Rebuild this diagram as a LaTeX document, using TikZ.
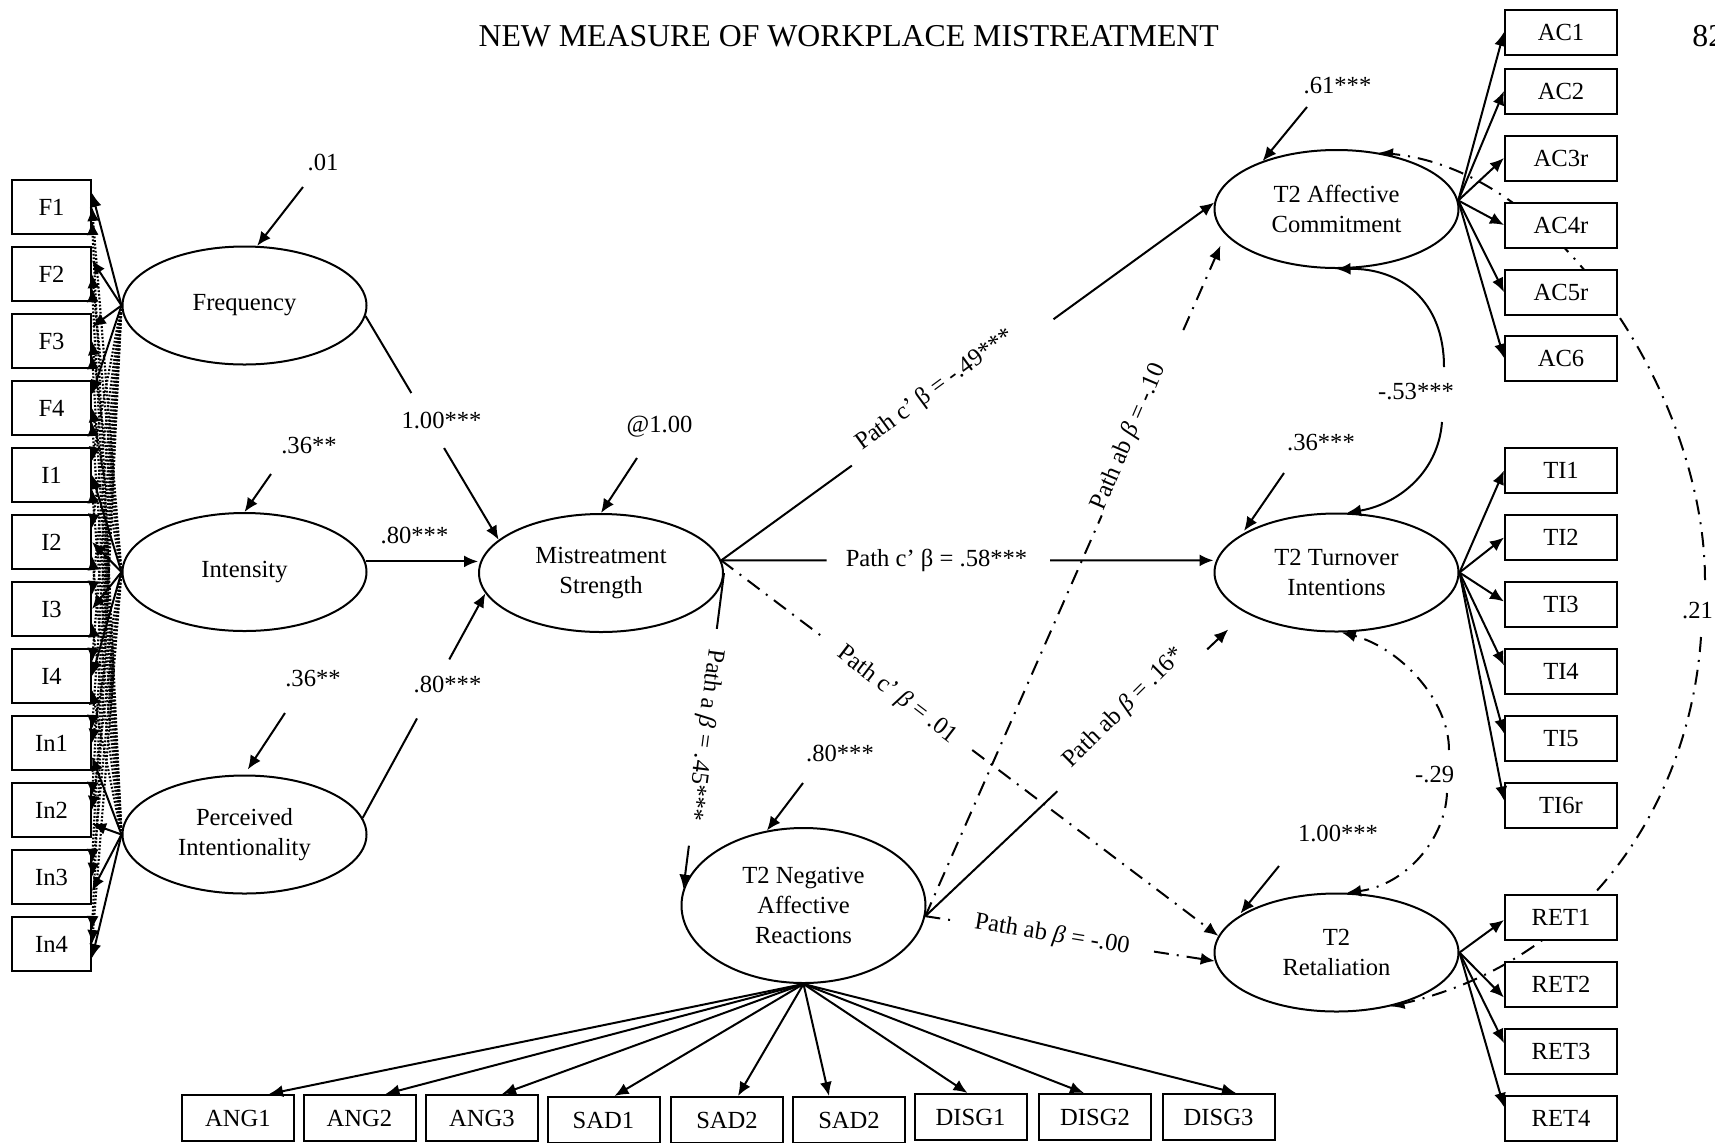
\documentclass[tikz,border=0pt]{standalone}
\usepackage{fontspec}
\setmainfont{Liberation Serif}
\usetikzlibrary{arrows.meta,shapes.geometric,calc}
\pgfdeclarelayer{bg}
\pgfsetlayers{bg,main}
\begin{document}
\begin{tikzpicture}[x=0.5pt,y=-0.5pt,
  every node/.style={font=\fontsize{12.3}{15}\selectfont},
  lat/.style={draw,ellipse,line width=1pt,minimum width=122pt,minimum height=59pt,inner sep=0pt,align=center,fill=white},
  obsL/.style={draw,rectangle,line width=1pt,minimum width=39.5pt,minimum height=27pt,inner sep=0pt,fill=white},
  obsR/.style={draw,rectangle,line width=1pt,minimum width=56pt,minimum height=22.5pt,inner sep=0pt,fill=white},
  obsB/.style={draw,rectangle,line width=1pt,minimum width=56pt,minimum height=23pt,inner sep=0pt,fill=white},
  arr/.style={line width=1pt,-{Latex[length=7pt,width=6pt]}},
  plain/.style={line width=1pt},
  dd/.style={line width=1pt,dash pattern=on 7.5pt off 4pt on 1pt off 4pt},
  cl/.style={line width=1.1pt,dash pattern=on 0.9pt off 0.9pt,-{Latex[length=7pt,width=6pt]}},
  ttl/.style={font=\fontsize{15.9}{18}\selectfont}
]
\useasboundingbox (0,0) rectangle (1715,1142);
\begin{pgfonlayer}{bg}
\fill[white] (0,0) rectangle (1715,1142);
\end{pgfonlayer}

% title
\node[ttl] (title) at (848.7,36) {NEW MEASURE OF WORKPLACE MISTREATMENT};
\node[ttl,anchor=west,inner sep=0pt] (pagenum) at (1692,36) {82};

% latent variables
\node[lat] (freq) at (244.5,305.5) {Frequency};
\node[lat] (inten) at (244.5,572) {Intensity};
\node[lat] (perc) at (244.5,834.5) {Perceived\\Intentionality};
\node[lat] (ms) at (601,573) {Mistreatment\\Strength};
\node[lat] (ac) at (1336.5,209) {T2 Affective\\Commitment};
\node[lat] (ti) at (1336.5,572.5) {T2 Turnover\\Intentions};
\node[lat] (ret) at (1336.5,952.5) {T2\\Retaliation};
\node[lat,minimum height=77.5pt] (nar) at (803.5,905.5) {T2 Negative\\Affective\\Reactions};

% left indicators
\foreach \n/\t [count=\k from 0] in {f1/F1,f2/F2,f3/F3,f4/F4,i1/I1,i2/I2,i3/I3,i4/I4,in1/In1,in2/In2,in3/In3,in4/In4}
  \node[obsL] (\n) at (51.5,{207+67*\k}) {\t};

% right indicators
\foreach \n/\t/\y in {ac1/AC1/32,ac2/AC2/91,ac3/AC3r/158,ac4/AC4r/225,ac5/AC5r/292,ac6/AC6/358}
  \node[obsR] (\n) at (1561,\y) {\t};
\foreach \n/\t/\y in {ti1/TI1/470.5,ti2/TI2/537.5,ti3/TI3/604.5,ti4/TI4/671.5,ti5/TI5/738.5,ti6/TI6r/805.5}
  \node[obsR] (\n) at (1561,\y) {\t};
\foreach \n/\t/\y in {ret1/RET1/917,ret2/RET2/984.5,ret3/RET3/1051,ret4/RET4/1118}
  \node[obsR] (\n) at (1561,\y) {\t};

% bottom indicators
\foreach \n/\t/\x/\y in {ang1/ANG1/238/1118,ang2/ANG2/359.5/1118,ang3/ANG3/482/1118,sad1/SAD1/603.5/1120,sad2/SAD2/727/1120,sad3/SAD2/849/1120,disg1/DISG1/970.5/1117,disg2/DISG2/1095/1117,disg3/DISG3/1218.5/1117}
  \node[obsB] (\n) at (\x,\y) {\t};

% left loadings (cross-loadings dotted)
\foreach \b in {i1,i2,i3,i4,in1,in2,in3,in4} \draw[cl] (freq.west) -- ($(\b.east)+(0,-14)$);
\foreach \b in {f1,f2,f3,f4,in1,in2,in3,in4} \draw[cl] (inten.west) -- (\b.east);
\foreach \b in {f1,f2,f3,f4,i1,i2,i3,i4} \draw[cl] (perc.west) -- ($(\b.east)+(0,14)$);
\foreach \b in {f1,f2,f3,f4} \draw[arr] (freq.west) -- ($(\b.east)+(0,-14)$);
\foreach \b in {i1,i2,i3,i4} \draw[arr] (inten.west) -- (\b.east);
\foreach \b in {in1,in2,in3,in4} \draw[arr] (perc.west) -- ($(\b.east)+(0,14)$);

% residuals
\coordinate (e1) at (303,187);
\coordinate (e2) at (271,474);
\coordinate (e3) at (285,713);
\coordinate (e4) at (637,458);
\coordinate (e5) at (803,783);
\coordinate (e6) at (1307,107);
\coordinate (e7) at (1284,473);
\coordinate (e8) at (1279,866);
\draw[arr] (e1) -- (freq.78);
\draw[arr] (e2) -- (inten.north);
\draw[arr,shorten >=3pt] (e3) -- (perc.north);
\draw[arr] (e4) -- (ms.north);
\draw[arr] (e5) -- (nar.116);
\draw[arr] (e6) -- (ac.147);
\draw[arr,shorten >=2pt] (e7) -- (ti.158);
\draw[arr,shorten >=2pt] (e8) -- (ret.160);
\node (l01) at (323,162) {.01};
\node (l36a) at (309,446) {.36**};
\node (l36b) at (313,679) {.36**};
\node (l100a) at (659.5,427) {@1.00};
\node (l80n) at (840,753.5) {.80***};
\node (l61) at (1337.5,85.5) {.61***};
\node (l36c) at (1321,442.5) {.36***};
\node (l100b) at (1338,833.5) {1.00***};

% dimensions -> mistreatment strength
\draw[plain] (freq.-5) -- ($(freq.-5)!0.344!(ms.162)$);
\draw[arr] ($(freq.-5)!0.59!(ms.162)$) -- (ms.162);
\node (lf) at (441.5,420) {1.00***};
\draw[arr] (inten.5) -- (inten.5 -| ms.west);
\node (li) at (414.5,535.5) {.80***};
\draw[plain] (perc.8) -- ($(perc.8)!0.443!(ms.190)$);
\draw[arr] ($(perc.8)!0.706!(ms.190)$) -- (ms.190);
\node (lp) at (447.5,684.5) {.80***};

% mistreatment strength -> outcomes
\coordinate (mst) at (ms.6);
\draw[plain] (mst) -- ($(mst)!0.265!(ac.177)$);
\draw[arr] ($(mst)!0.674!(ac.177)$) -- (ac.177);
\node[rotate=36.2] (lc1) at (935,390) {Path c’ β = -.49***};

\coordinate (tiw) at (mst -| ti.west);
\draw[plain] (mst) -- ($(mst)!0.214!(tiw)$);
\draw[arr] ($(mst)!0.668!(tiw)$) -- (tiw);
\node (lc2) at (936.5,560) {Path c’ β = .58***};

\draw[dd] (mst) -- ($(mst)!0.206!(ret.172)$);
\draw[arr,dd] ($(mst)!0.505!(ret.172)$) -- (ret.172);
\node[rotate=-37.4] (lc3) at (897,695) {Path c’ \textit{β} = .01};

\draw[plain] (ms.east) -- ($(ms.east)!0.177!(nar.172)$);
\draw[arr] ($(ms.east)!0.864!(nar.172)$) -- (nar.172);
\node[rotate=-97.4] (la) at (704,735) {Path a \textit{β} = .45***};

% negative affective reactions -> outcomes
\coordinate (nre) at (nar.-5);
\draw[dd] (nre) -- ($(nre)!0.588!(ac.193)$);
\draw[arr,dd,shorten >=6pt] ($(nre)!0.86!(ac.193)$) -- (ac.193);
\node[rotate=66.8] (lb1) at (1129,437) {Path ab \textit{β} = -.10};

\draw[plain] (nre) -- ($(nre)!0.412!(ti.204)$);
\draw[arr,shorten >=12pt] ($(nre)!0.88!(ti.204)$) -- (ti.204);
\node[rotate=44.7] (lb2) at (1124,708) {Path ab \textit{β} = .16*};

\draw[dd] (nre) -- ($(nre)!0.111!(ret.184.5)$);
\draw[arr,dd] ($(nre)!0.79!(ret.184.5)$) -- (ret.184.5);
\node[rotate=-9.3] (lb3) at (1052,935) {Path ab \textit{β} = -.00};

% NAR indicators
\foreach \b/\d in {ang1/31,ang2/26,ang3/20,sad1/11,sad2/11,sad3/-20,disg1/-3,disg2/-11,disg3/17.5}
  \draw[arr] (nar.south) -- ($(\b.north)+(\d,0)$);

% outcome indicators
\foreach \b in {ac1,ac2,ac3,ac4,ac5,ac6} \draw[arr] (ac.4) -- (\b.west);
\foreach \b/\d in {ti1/0,ti2/0,ti3/-3,ti4/-6,ti5/-5,ti6/-5} \draw[arr] (ti.east) -- ($(\b.west)+(0,\d)$);
\foreach \b/\d in {ret1/3,ret2/13,ret3/-8,ret4/-11} \draw[arr] (ret.east) -- ($(\b.west)+(0,\d)$);

% covariances
\coordinate (k53a) at (1444,367);
\coordinate (k53b) at (1442,422);
\draw[arr] (k53a) .. controls (1444,300) and (1400,268) .. (ac.south);
\draw[arr] (k53b) .. controls (1438,475) and (1395,505) .. (ti.80);
\node (l53) at (1416,391.5) {-.53***};

\coordinate (k29a) at (1449,750);
\coordinate (k29b) at (1447,793);
\draw[arr,dd] (k29a) .. controls (1449,700) and (1400,648) .. (ti.-85);
\draw[arr,dd] (k29b) .. controls (1445,840) and (1405,885) .. (ret.80);
\node (l29) at (1434.7,775) {-.29};

\coordinate (c21a) at (1705,580);
\coordinate (c21b) at (1701,637);
\begin{pgfonlayer}{bg}
\draw[arr,dd] (c21a) .. controls (1705,400) and (1560,170) .. (ac.53);
\draw[arr,dd] (c21b) .. controls (1690,800) and (1590,960) .. (ret.-45);
\end{pgfonlayer}
\node (l21) at (1697.5,611) {.21};
\end{tikzpicture}
\end{document}
